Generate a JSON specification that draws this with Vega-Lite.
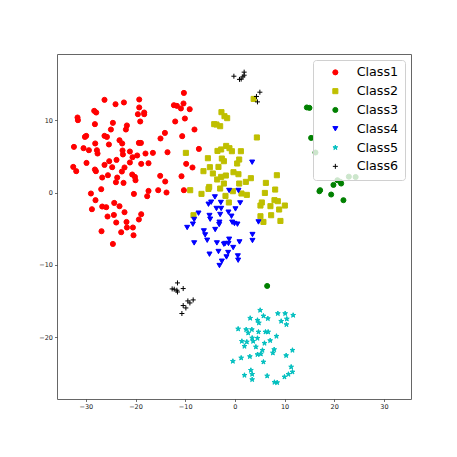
{
  "$schema": "https://vega.github.io/schema/vega-lite/v6.json",
  "width": 354,
  "height": 345,
  "autosize": {"type": "none"},
  "padding": {"left": 57, "top": 54, "right": 46, "bottom": 58},
  "background": "white",
  "config": {
    "view": {"stroke": "#666", "strokeWidth": 1},
    "axis": {"domain": false, "grid": false, "labelFont": "DejaVu Sans", "labelFontSize": 6.5, "labelColor": "#222", "tickSize": 2.5, "tickColor": "#333", "tickWidth": 0.7, "labelPadding": 2, "title": null},
    "legend": {"orient": "top-right", "offset": 6, "labelFont": "DejaVu Sans", "labelFontSize": 12.7, "labelColor": "#000", "fillColor": "rgba(255,255,255,0.8)", "strokeColor": "#d0d0d0", "cornerRadius": 3, "padding": 6, "symbolSize": 12, "symbolOffset": 10, "labelOffset": 15, "rowPadding": 4.8, "symbolStrokeWidth": 1}
  },
  "data": {"values": [
    {"c":"Class1","x":-26.24,"y":12.81},{"c":"Class1","x":-24.02,"y":12.21},{"c":"Class1","x":-22.33,"y":12.45},{"c":"Class1","x":-19.25,"y":12.86},{"c":"Class1","x":-19.25,"y":11.76},{"c":"Class1","x":-18.25,"y":11.06},{"c":"Class1","x":-18.25,"y":10.83},{"c":"Class1","x":-19.52,"y":10.83},{"c":"Class1","x":-19.05,"y":9.82},{"c":"Class1","x":-28.31,"y":11.29},{"c":"Class1","x":-27.91,"y":11.06},{"c":"Class1","x":-31.67,"y":10.37},{"c":"Class1","x":-31.59,"y":10.0},{"c":"Class1","x":-28.17,"y":9.45},{"c":"Class1","x":-24.55,"y":9.63},{"c":"Class1","x":-21.73,"y":9.27},{"c":"Class1","x":-21.93,"y":8.71},{"c":"Class1","x":-24.95,"y":8.71},{"c":"Class1","x":-26.24,"y":7.83},{"c":"Class1","x":-25.75,"y":7.69},{"c":"Class1","x":-30.18,"y":7.69},{"c":"Class1","x":-29.92,"y":7.83},{"c":"Class1","x":-23.22,"y":7.23},{"c":"Class1","x":-22.68,"y":6.78},{"c":"Class1","x":-19.32,"y":6.86},{"c":"Class1","x":-18.91,"y":6.86},{"c":"Class1","x":-28.11,"y":6.78},{"c":"Class1","x":-25.35,"y":6.64},{"c":"Class1","x":-32.39,"y":6.31},{"c":"Class1","x":-30.46,"y":6.13},{"c":"Class1","x":-29.38,"y":5.85},{"c":"Class1","x":-27.77,"y":5.85},{"c":"Class1","x":-27.64,"y":5.39},{"c":"Class1","x":-22.61,"y":5.81},{"c":"Class1","x":-22.53,"y":5.26},{"c":"Class1","x":-21.13,"y":5.67},{"c":"Class1","x":-17.99,"y":5.39},{"c":"Class1","x":-16.5,"y":5.48},{"c":"Class1","x":-19.66,"y":5.12},{"c":"Class1","x":-20.6,"y":4.88},{"c":"Class1","x":-29.86,"y":4.09},{"c":"Class1","x":-25.29,"y":4.33},{"c":"Class1","x":-26.24,"y":3.82},{"c":"Class1","x":-23.82,"y":4.51},{"c":"Class1","x":-21.13,"y":4.15},{"c":"Class1","x":-18.85,"y":3.96},{"c":"Class1","x":-17.38,"y":4.05},{"c":"Class1","x":-32.53,"y":3.54},{"c":"Class1","x":-31.93,"y":2.95},{"c":"Class1","x":-28.17,"y":3.18},{"c":"Class1","x":-27.97,"y":2.95},{"c":"Class1","x":-24.69,"y":3.5},{"c":"Class1","x":-22.21,"y":3.46},{"c":"Class1","x":-22.74,"y":2.9},{"c":"Class1","x":-25.55,"y":2.39},{"c":"Class1","x":-26.7,"y":2.07},{"c":"Class1","x":-23.68,"y":2.07},{"c":"Class1","x":-20.66,"y":2.49},{"c":"Class1","x":-20.12,"y":2.16},{"c":"Class1","x":-20.0,"y":1.7},{"c":"Class1","x":-23.94,"y":1.42},{"c":"Class1","x":-22.41,"y":1.33},{"c":"Class1","x":-26.9,"y":0.46},{"c":"Class1","x":-28.97,"y":-0.14},{"c":"Class1","x":-20.32,"y":-0.19},{"c":"Class1","x":-17.38,"y":0.22},{"c":"Class1","x":-17.65,"y":-0.51},{"c":"Class1","x":-28.05,"y":-1.06},{"c":"Class1","x":-26.7,"y":-1.94},{"c":"Class1","x":-25.89,"y":-2.03},{"c":"Class1","x":-24.28,"y":-1.44},{"c":"Class1","x":-23.22,"y":-1.89},{"c":"Class1","x":-28.77,"y":-2.31},{"c":"Class1","x":-22.21,"y":-2.72},{"c":"Class1","x":-25.63,"y":-3.32},{"c":"Class1","x":-24.35,"y":-3.1},{"c":"Class1","x":-18.85,"y":-3.0},{"c":"Class1","x":-19.32,"y":-3.73},{"c":"Class1","x":-23.88,"y":-4.15},{"c":"Class1","x":-21.81,"y":-4.07},{"c":"Class1","x":-21.73,"y":-4.84},{"c":"Class1","x":-20.52,"y":-4.84},{"c":"Class1","x":-26.84,"y":-5.35},{"c":"Class1","x":-22.88,"y":-5.49},{"c":"Class1","x":-20.4,"y":-5.91},{"c":"Class1","x":-24.55,"y":-7.11},
    {"c":"Class1","x":-10.26,"y":13.77},{"c":"Class1","x":-12.27,"y":12.07},{"c":"Class1","x":-11.67,"y":11.98},{"c":"Class1","x":-10.86,"y":11.62},{"c":"Class1","x":-10.34,"y":12.31},{"c":"Class1","x":-9.09,"y":11.52},{"c":"Class1","x":-12.01,"y":9.82},{"c":"Class1","x":-10.06,"y":10.23},{"c":"Class1","x":-8.13,"y":8.71},{"c":"Class1","x":-14.08,"y":8.24},{"c":"Class1","x":-14.97,"y":7.47},{"c":"Class1","x":-10.6,"y":7.79},{"c":"Class1","x":-13.56,"y":5.57},{"c":"Class1","x":-9.8,"y":3.96},{"c":"Class1","x":-8.53,"y":3.46},{"c":"Class1","x":-15.03,"y":2.3},{"c":"Class1","x":-14.02,"y":1.52},{"c":"Class1","x":-10.74,"y":2.25},{"c":"Class1","x":-15.43,"y":0.32},{"c":"Class1","x":-13.76,"y":0.0},{"c":"Class1","x":-10.26,"y":0.32},{"c":"Class1","x":-7.24,"y":6.03},
    {"c":"Class2","x":-2.7,"y":11.11},{"c":"Class2","x":-2.09,"y":10.55},{"c":"Class2","x":-1.55,"y":10.28},{"c":"Class2","x":-4.16,"y":9.45},{"c":"Class2","x":-3.7,"y":9.4},{"c":"Class2","x":-2.96,"y":9.17},{"c":"Class2","x":4.43,"y":7.61},{"c":"Class2","x":-9.86,"y":5.48},{"c":"Class2","x":-3.5,"y":5.75},{"c":"Class2","x":-2.76,"y":5.95},{"c":"Class2","x":-1.75,"y":6.44},{"c":"Class2","x":-1.09,"y":6.13},{"c":"Class2","x":-0.6,"y":5.71},{"c":"Class2","x":1.21,"y":5.71},{"c":"Class2","x":-5.43,"y":4.74},{"c":"Class2","x":-2.62,"y":4.7},{"c":"Class2","x":-2.21,"y":4.33},{"c":"Class2","x":0.87,"y":4.56},{"c":"Class2","x":0.46,"y":4.01},{"c":"Class2","x":-5.03,"y":3.5},{"c":"Class2","x":-3.3,"y":3.54},{"c":"Class2","x":-6.32,"y":2.95},{"c":"Class2","x":-4.43,"y":2.63},{"c":"Class2","x":-1.81,"y":2.35},{"c":"Class2","x":-2.76,"y":2.16},{"c":"Class2","x":-3.56,"y":1.8},{"c":"Class2","x":-0.28,"y":2.81},{"c":"Class2","x":0.72,"y":2.53},{"c":"Class2","x":3.22,"y":1.98},{"c":"Class2","x":2.21,"y":1.47},{"c":"Class2","x":-2.21,"y":1.24},{"c":"Class2","x":0.87,"y":1.24},{"c":"Class2","x":-5.17,"y":0.77},{"c":"Class2","x":-5.31,"y":0.5},{"c":"Class2","x":-2.96,"y":0.55},{"c":"Class2","x":-0.4,"y":0.18},{"c":"Class2","x":1.33,"y":-0.14},{"c":"Class2","x":2.41,"y":-0.33},{"c":"Class2","x":-6.72,"y":-0.19},{"c":"Class2","x":-1.89,"y":-0.47},{"c":"Class2","x":-8.99,"y":0.32},{"c":"Class2","x":6.24,"y":1.33},{"c":"Class2","x":8.45,"y":2.39},{"c":"Class2","x":6.04,"y":-0.06},{"c":"Class2","x":8.11,"y":0.41},{"c":"Class2","x":7.97,"y":-1.06},{"c":"Class2","x":8.65,"y":-1.2},{"c":"Class2","x":5.43,"y":-1.38},{"c":"Class2","x":5.15,"y":-1.8},{"c":"Class2","x":7.16,"y":-1.89},{"c":"Class2","x":8.91,"y":-2.35},{"c":"Class2","x":10.06,"y":-1.8},{"c":"Class2","x":-1.21,"y":-1.38},{"c":"Class2","x":5.15,"y":-3.28},{"c":"Class2","x":5.75,"y":-4.07},{"c":"Class2","x":7.3,"y":-3.14},{"c":"Class2","x":9.17,"y":-3.93},{"c":"Class2","x":-8.33,"y":-3.14},{"c":"Class2","x":3.78,"y":12.94},
    {"c":"Class3","x":14.49,"y":11.76},{"c":"Class3","x":15.01,"y":11.7},{"c":"Class3","x":15.35,"y":7.55},{"c":"Class3","x":16.22,"y":5.53},{"c":"Class3","x":20.64,"y":1.7},{"c":"Class3","x":21.25,"y":1.47},{"c":"Class3","x":21.39,"y":1.24},{"c":"Class3","x":19.84,"y":1.05},{"c":"Class3","x":17.16,"y":0.32},{"c":"Class3","x":17.02,"y":0.18},{"c":"Class3","x":19.38,"y":-0.28},{"c":"Class3","x":21.85,"y":-1.06},{"c":"Class3","x":22.94,"y":2.19},{"c":"Class3","x":24.31,"y":2.14},{"c":"Class3","x":6.5,"y":-12.92},
    {"c":"Class4","x":3.48,"y":4.19},{"c":"Class4","x":-1.15,"y":0.28},{"c":"Class4","x":0.72,"y":0.28},{"c":"Class4","x":-4.02,"y":-0.61},{"c":"Class4","x":-2.82,"y":-1.38},{"c":"Class4","x":1.07,"y":-1.44},{"c":"Class4","x":-5.31,"y":-1.62},{"c":"Class4","x":-4.77,"y":-1.34},{"c":"Class4","x":-3.7,"y":-2.21},{"c":"Class4","x":-2.76,"y":-2.21},{"c":"Class4","x":0.12,"y":-2.27},{"c":"Class4","x":-7.32,"y":-2.86},{"c":"Class4","x":-1.29,"y":-2.72},{"c":"Class4","x":-5.11,"y":-3.18},{"c":"Class4","x":-4.97,"y":-3.69},{"c":"Class4","x":-2.96,"y":-3.04},{"c":"Class4","x":-0.68,"y":-3.28},{"c":"Class4","x":-8.19,"y":-3.73},{"c":"Class4","x":-8.45,"y":-4.38},{"c":"Class4","x":-3.1,"y":-4.11},{"c":"Class4","x":-3.16,"y":-4.43},{"c":"Class4","x":-0.54,"y":-4.11},{"c":"Class4","x":-0.08,"y":-4.29},{"c":"Class4","x":0.52,"y":-4.38},{"c":"Class4","x":4.75,"y":-4.07},{"c":"Class4","x":-9.6,"y":-4.84},{"c":"Class4","x":-3.96,"y":-5.12},{"c":"Class4","x":-6.24,"y":-5.31},{"c":"Class4","x":-5.98,"y":-5.86},{"c":"Class4","x":-5.57,"y":-6.6},{"c":"Class4","x":3.54,"y":-5.81},{"c":"Class4","x":3.54,"y":-6.64},{"c":"Class4","x":-8.19,"y":-6.97},{"c":"Class4","x":-3.62,"y":-6.97},{"c":"Class4","x":-2.21,"y":-7.15},{"c":"Class4","x":-1.95,"y":-7.05},{"c":"Class4","x":-1.15,"y":-6.46},{"c":"Class4","x":-1.29,"y":-7.05},{"c":"Class4","x":0.93,"y":-6.83},{"c":"Class4","x":-0.34,"y":-7.61},{"c":"Class4","x":-3.3,"y":-8.16},{"c":"Class4","x":-1.35,"y":-8.3},{"c":"Class4","x":-1.69,"y":-8.91},{"c":"Class4","x":0.6,"y":-8.77},{"c":"Class4","x":0.66,"y":-9.36},{"c":"Class4","x":-5.11,"y":-8.53},{"c":"Class4","x":-2.62,"y":-9.5},{"c":"Class4","x":-3.1,"y":-10.1},
    {"c":"Class5","x":5.09,"y":-16.28},{"c":"Class5","x":3.08,"y":-17.38},{"c":"Class5","x":5.75,"y":-17.07},{"c":"Class5","x":6.64,"y":-17.43},{"c":"Class5","x":4.55,"y":-17.66},{"c":"Class5","x":4.83,"y":-18.03},{"c":"Class5","x":8.65,"y":-16.73},{"c":"Class5","x":10.12,"y":-16.73},{"c":"Class5","x":11.73,"y":-16.97},{"c":"Class5","x":9.32,"y":-17.8},{"c":"Class5","x":10.46,"y":-17.48},{"c":"Class5","x":10.38,"y":-18.26},{"c":"Class5","x":0.66,"y":-18.86},{"c":"Class5","x":2.27,"y":-18.95},{"c":"Class5","x":2.68,"y":-19.42},{"c":"Class5","x":3.42,"y":-18.95},{"c":"Class5","x":4.75,"y":-19.28},{"c":"Class5","x":6.16,"y":-19.28},{"c":"Class5","x":6.7,"y":-19.28},{"c":"Class5","x":8.37,"y":-19.87},{"c":"Class5","x":1.41,"y":-20.57},{"c":"Class5","x":2.41,"y":-20.66},{"c":"Class5","x":3.48,"y":-20.11},{"c":"Class5","x":3.68,"y":-20.57},{"c":"Class5","x":4.55,"y":-20.15},{"c":"Class5","x":7.1,"y":-20.47},{"c":"Class5","x":5.96,"y":-20.84},{"c":"Class5","x":1.93,"y":-21.26},{"c":"Class5","x":4.23,"y":-21.35},{"c":"Class5","x":5.55,"y":-21.81},{"c":"Class5","x":7.91,"y":-21.71},{"c":"Class5","x":7.65,"y":-22.18},{"c":"Class5","x":11.59,"y":-21.81},{"c":"Class5","x":4.55,"y":-22.4},{"c":"Class5","x":5.23,"y":-22.32},{"c":"Class5","x":3.02,"y":-22.68},{"c":"Class5","x":1.27,"y":-22.87},{"c":"Class5","x":-0.4,"y":-23.33},{"c":"Class5","x":10.32,"y":-22.54},{"c":"Class5","x":5.75,"y":-23.43},{"c":"Class5","x":11.33,"y":-24.12},{"c":"Class5","x":11.59,"y":-24.81},{"c":"Class5","x":3.22,"y":-24.58},{"c":"Class5","x":3.48,"y":-25.13},{"c":"Class5","x":3.48,"y":-25.86},{"c":"Class5","x":1.93,"y":-25.27},{"c":"Class5","x":6.5,"y":-25.36},{"c":"Class5","x":9.98,"y":-25.5},{"c":"Class5","x":10.78,"y":-25.13},{"c":"Class5","x":7.97,"y":-26.24},{"c":"Class5","x":8.51,"y":-26.28},
    {"c":"Class6","x":-0.2,"y":16.08},{"c":"Class6","x":0.93,"y":15.64},{"c":"Class6","x":1.27,"y":15.68},{"c":"Class6","x":1.87,"y":16.64},{"c":"Class6","x":1.87,"y":16.22},{"c":"Class6","x":1.61,"y":15.99},{"c":"Class6","x":5.03,"y":13.87},{"c":"Class6","x":4.35,"y":13.28},{"c":"Class6","x":4.55,"y":12.53},{"c":"Class6","x":-11.55,"y":-12.5},{"c":"Class6","x":-12.62,"y":-13.33},{"c":"Class6","x":-12.21,"y":-13.37},{"c":"Class6","x":-11.67,"y":-13.51},{"c":"Class6","x":-11.55,"y":-13.75},{"c":"Class6","x":-10.4,"y":-13.28},{"c":"Class6","x":-9.46,"y":-14.99},{"c":"Class6","x":-9.05,"y":-15.27},{"c":"Class6","x":-8.39,"y":-14.85},{"c":"Class6","x":-10.4,"y":-15.63},{"c":"Class6","x":-9.86,"y":-15.96},{"c":"Class6","x":-10.66,"y":-16.73}
  ]},
  "mark": {"type": "point", "filled": true, "strokeWidth": 1, "opacity": 1},
  "encoding": {
    "x": {"field": "x", "type": "quantitative", "scale": {"domain": [-35.8, 35.45], "nice": false, "zero": false}, "axis": {"values": [-30, -20, -10, 0, 10, 20, 30]}},
    "y": {"field": "y", "type": "quantitative", "scale": {"domain": [-28.55, 19.15], "nice": false, "zero": false}, "axis": {"values": [-20, -10, 0, 10]}},
    "color": {"field": "c", "type": "nominal", "scale": {"domain": ["Class1","Class2","Class3","Class4","Class5","Class6"], "range": ["#ff0000","#bfbf00","#008000","#0000ff","#00bfbf","#000000"]}, "legend": {"title": null}},
    "stroke": {"field": "c", "type": "nominal", "scale": {"domain": ["Class1","Class2","Class3","Class4","Class5","Class6"], "range": ["#ff0000","#bfbf00","#008000","#0000ff","#00bfbf","#000000"]}, "legend": {"title": null}},
    "shape": {"field": "c", "type": "nominal", "scale": {"domain": ["Class1","Class2","Class3","Class4","Class5","Class6"], "range": ["circle","square","circle","triangle-down","M0,-1L0.2245,-0.309L0.951,-0.309L0.363,0.118L0.588,0.809L0,0.382L-0.588,0.809L-0.363,0.118L-0.951,-0.309L-0.2245,-0.309Z","M-1,0L1,0M0,-1L0,1"]}, "legend": {"title": null}},
    "size": {"field": "c", "type": "nominal", "scale": {"domain": ["Class1","Class2","Class3","Class4","Class5","Class6"], "range": [26, 25, 8, 28, 45, 30]}, "legend": null}
  }
}
